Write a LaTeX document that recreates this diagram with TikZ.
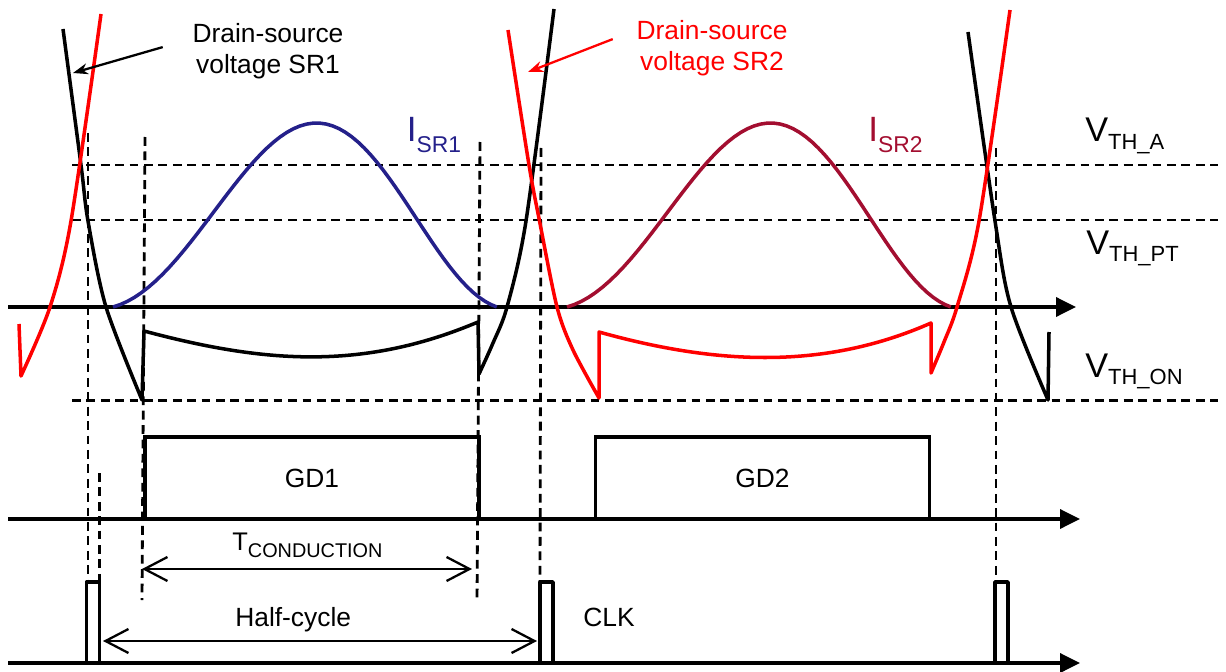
\documentclass[tikz,border=0pt]{standalone}
\usepackage{fontspec}
\setmainfont{Liberation Sans}
\usepackage{tikz}
\usetikzlibrary{arrows.meta}

\definecolor{srred}{RGB}{255,0,0}
\definecolor{srblue}{RGB}{36,32,138}
\definecolor{srmaroon}{RGB}{163,14,48}

\newcommand{\vlabel}[2]{{\fontsize{19.5}{22}\selectfont #1}\raisebox{-4.3pt}{\fontsize{12.5}{14}\selectfont #2}}
\newcommand{\ilabel}[2]{{\fontsize{20}{24}\selectfont #1}\raisebox{-5.7pt}{\fontsize{13}{15}\selectfont #2}}
\newcommand{\tlabel}[2]{{\fontsize{14.5}{17}\selectfont #1}\raisebox{-4pt}{\fontsize{11.3}{13}\selectfont #2}}

\tikzset{
  sig/.style={line width=2pt, line join=round},
  thr/.style={line width=1.6pt, dash pattern=on 5pt off 3.2pt},
  axis/.style={line width=2pt, -{Triangle[length=0.4cm,width=0.38cm]}},
  pointer/.style={line width=1.3pt, -{Stealth[length=0.3cm,width=0.22cm]}},
  span/.style={line width=1.3pt, {Straight Barb[length=0.46cm,width=0.48cm]}-{Straight Barb[length=0.46cm,width=0.48cm]}},
  lbl/.style={font=\fontsize{15}{17.6}\selectfont, inner sep=0pt, align=center},
  txt/.style={font=\fontsize{15}{17.6}\selectfont, inner sep=0pt},
  gdbox/.style={draw, line width=2pt, minimum width=6.68cm, minimum height=1.64cm, inner sep=0pt, font=\fontsize{15}{17.6}\selectfont}
}

\begin{document}
\begin{tikzpicture}[x=0.02cm, y=-0.02cm]
      \useasboundingbox (0,0) rectangle (1226,672);
      % thresholds and time markers
      \foreach \y in {165,220,400.5}
        \draw[thr] (72,\y) -- (1218,\y);
      \draw[thr] (88,133) -- (88,582);
      \draw[thr] (99.5,473) -- (99.5,582);
      \draw[thr] (145,137) -- (142,600);
      \draw[thr] (480,142) -- (477,603);
      \draw[thr] (541,148) -- (540,582);
      \draw[thr] (996,148) -- (996,576);

      \draw[axis] (8,307) -- (1076,307);
      \draw[axis] (8,519) -- (1080,519);
      \draw[axis] (8,663) -- (1080,663);

      % currents
      \draw[sig, srblue] plot[domain=0:1, samples=60] ({113+384*(\x+0.03*sin(180*\x))}, {307-184*(0.8*(1-cos(360*\x))/2+0.2*sin(180*\x))});
      \draw[sig, srmaroon] plot[domain=0:1, samples=60] ({567+384*(\x+0.03*sin(180*\x))}, {307-184*(0.8*(1-cos(360*\x))/2+0.2*sin(180*\x))});

      % drain-source voltages
      \draw[sig] plot[smooth] coordinates {(63,29) (81,165) (88,221) (106,307) (142,400)}
        -- (144,331) .. controls (260,362) and (360,372) .. (478,322)
        -- plot[smooth] coordinates {(479,374) (493,343) (507,307) (526,221) (554,9)};
      \draw[sig] plot[smooth] coordinates {(968,32) (995,221) (1011,307) (1048,400)} -- (1049,332);
      \draw[sig, srred] (19,324) -- plot[smooth] coordinates {(21,376) (50,307) (71,221) (101,14)};
      \draw[sig, srred] plot[smooth] coordinates {(508,30) (529,165) (539.5,221) (557,307) (573,350) (599,398)}
        -- (599,332) .. controls (710,363) and (820,372) .. (931,323)
        -- plot[smooth] coordinates {(931,373) (944,342) (957,307) (979,221) (1010,10)};

      \node[lbl, anchor=north] (lblsr1) at (268,23) {Drain-source\\voltage SR1};
      \node[lbl, anchor=north, srred] (lblsr2) at (712,20) {Drain-source\\voltage SR2};
      \coordinate (sr1tip) at (73,73);
      \coordinate (sr2tip) at (528,72);
      \draw[pointer] ([xshift=-0.59cm, yshift=0.08cm]lblsr1.west) -- (sr1tip);
      \draw[pointer, srred] ([xshift=-0.47cm, yshift=0.18cm]lblsr2.west) -- (sr2tip);

      \node[anchor=base west, inner sep=0pt, srblue] (isr1) at (406.5,142) {\ilabel{I}{SR1}};
      \node[anchor=base west, inner sep=0pt, srmaroon] (isr2) at (868,142) {\ilabel{I}{SR2}};
      \node[anchor=base west, inner sep=0pt] (vtha) at (1085,142) {\vlabel{V}{TH\_A}};
      \node[anchor=base west, inner sep=0pt] (vthpt) at (1086,254) {\vlabel{V}{TH\_PT}};
      \node[anchor=base west, inner sep=0pt] (vthon) at (1085,377) {\vlabel{V}{TH\_ON}};

      % gate drives and clock
      \node[gdbox] (gd1) at (312,478) {GD1};
      \node[gdbox] (gd2) at (762.5,478) {GD2};
      \foreach \x in {86.5,540,995}
        \draw[sig, fill=white] (\x,663) rectangle ++(13,-81);

      \node[anchor=base west, inner sep=0pt] (tcond) at (232,550) {\tlabel{T}{CONDUCTION}};
      \coordinate (tcl) at (142,569);
      \coordinate (tcr) at (472,569);
      \draw[span] (tcl) -- (tcr);
      \node[txt, anchor=base west] (half) at (235,626) {Half-cycle};
      \coordinate (hcl) at (103,641);
      \coordinate (hcr) at (537,641);
      \draw[span] (hcl) -- (hcr);
      \node[txt, anchor=base west] (clk) at (583,626) {CLK};
\end{tikzpicture}
\end{document}
